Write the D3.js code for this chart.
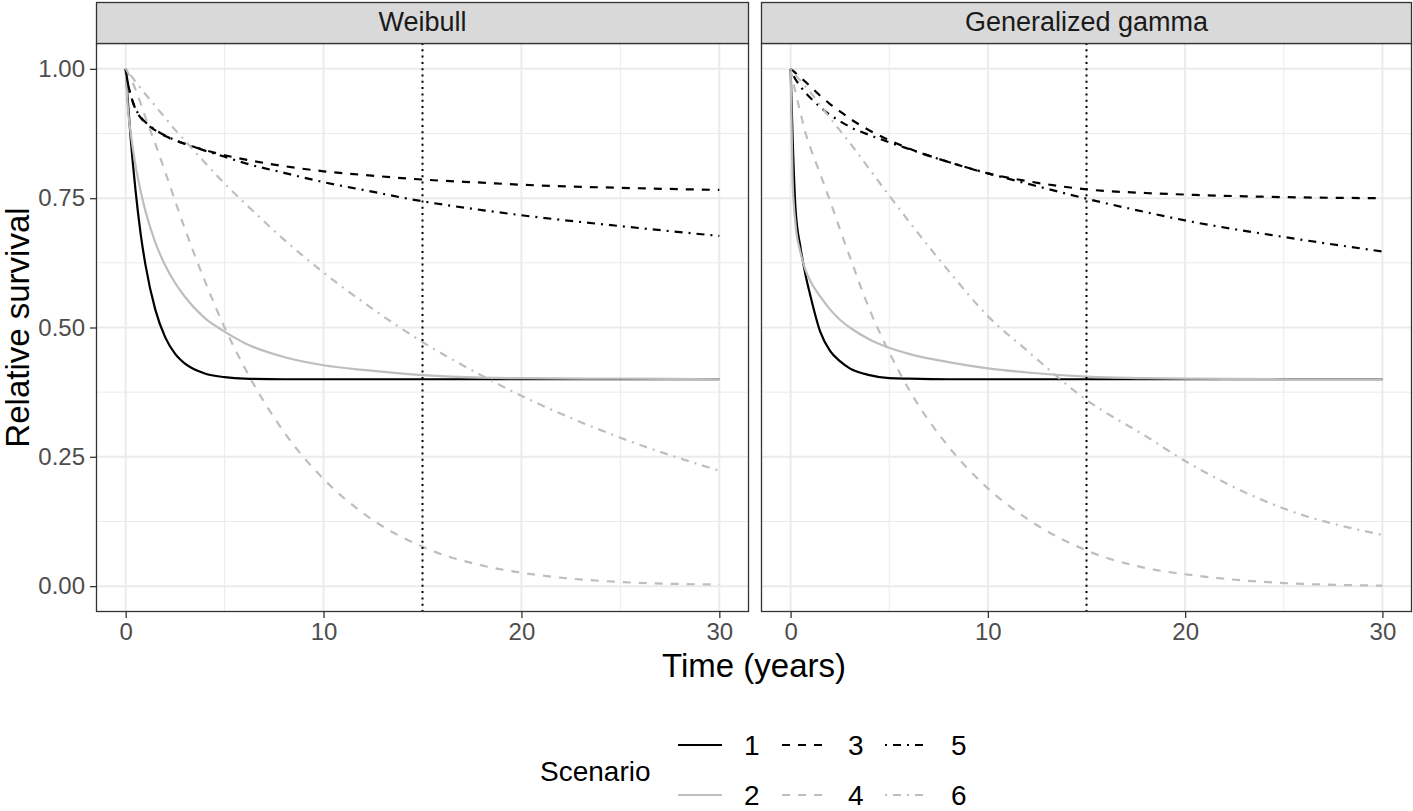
<!DOCTYPE html>
<html><head><meta charset="utf-8">
<script src="https://cdn.jsdelivr.net/npm/d3@7"></script>
<style>
html,body{margin:0;padding:0;background:#fff;}
text{font-family:"Liberation Sans",Arial,Helvetica,sans-serif;}
</style></head>
<body><svg id="c" width="1413" height="811"></svg>
<script>
const panels = ["Weibull", "Generalized gamma"];
const scenarios = ["1", "2", "3", "4", "5", "6"];
const times = [0, 0.1, 0.25, 0.5, 0.75, 1, 1.5, 2, 2.5, 3, 4, 5, 6, 8, 10, 12, 15, 18, 20, 25, 30];
const xTicks = [0, 10, 20, 30];
const yTicks = [0, 0.25, 0.5, 0.75, 1];
const yTickLabels = ["0.00", "0.25", "0.50", "0.75", "1.00"];
const cutoffTime = 15;

// Weibull
const weib1 = [1, 0.943, 0.867, 0.764, 0.683, 0.621, 0.534, 0.481, 0.449, 0.430, 0.411, 0.404, 0.401, 0.400, 0.400, 0.400, 0.400, 0.400, 0.400, 0.400, 0.400];
const weib2 = [1, 0.930, 0.877, 0.813, 0.765, 0.725, 0.664, 0.620, 0.586, 0.559, 0.518, 0.492, 0.470, 0.443, 0.427, 0.418, 0.408, 0.403, 0.402, 0.401, 0.400];
const weib3 = [1, 0.975, 0.950, 0.922, 0.906, 0.896, 0.881, 0.870, 0.862, 0.855, 0.843, 0.833, 0.825, 0.812, 0.802, 0.795, 0.786, 0.780, 0.776, 0.770, 0.766];
const weib4 = [1, 0.994, 0.982, 0.960, 0.934, 0.906, 0.855, 0.800, 0.745, 0.690, 0.590, 0.500, 0.423, 0.298, 0.207, 0.141, 0.076, 0.040, 0.026, 0.008, 0.003];
const weib5 = [1, 0.975, 0.950, 0.923, 0.907, 0.897, 0.882, 0.871, 0.862, 0.855, 0.842, 0.830, 0.818, 0.799, 0.781, 0.766, 0.744, 0.727, 0.717, 0.696, 0.677];
const weib6 = [1, 0.995, 0.988, 0.975, 0.963, 0.951, 0.928, 0.905, 0.882, 0.861, 0.819, 0.778, 0.741, 0.670, 0.606, 0.549, 0.472, 0.407, 0.368, 0.287, 0.223];

// Generalized gamma
const gg1 = [1, 0.870, 0.730, 0.655, 0.603, 0.562, 0.492, 0.455, 0.435, 0.421, 0.408, 0.402, 0.401, 0.400, 0.400, 0.400, 0.400, 0.400, 0.400, 0.400, 0.400];
const gg2 = [1, 0.785, 0.700, 0.645, 0.612, 0.590, 0.560, 0.535, 0.515, 0.500, 0.477, 0.461, 0.449, 0.433, 0.421, 0.413, 0.405, 0.402, 0.401, 0.400, 0.400];
const gg3 = [1, 0.997, 0.992, 0.984, 0.975, 0.966, 0.948, 0.932, 0.918, 0.904, 0.881, 0.862, 0.846, 0.820, 0.798, 0.783, 0.767, 0.760, 0.757, 0.752, 0.750];
const gg4 = [1, 0.980, 0.955, 0.915, 0.877, 0.848, 0.797, 0.745, 0.690, 0.637, 0.535, 0.452, 0.380, 0.270, 0.189, 0.130, 0.069, 0.035, 0.023, 0.006, 0.001];
const gg5 = [1, 0.990, 0.980, 0.966, 0.954, 0.944, 0.926, 0.911, 0.899, 0.888, 0.872, 0.858, 0.845, 0.820, 0.798, 0.778, 0.749, 0.723, 0.707, 0.675, 0.647];
const gg6 = [1, 0.995, 0.988, 0.977, 0.966, 0.955, 0.930, 0.905, 0.881, 0.857, 0.806, 0.755, 0.705, 0.610, 0.522, 0.455, 0.360, 0.290, 0.242, 0.150, 0.099];

const panelSeries = [
  [weib1, weib2, weib3, weib4, weib5, weib6],
  [gg1, gg2, gg3, gg4, gg5, gg6]
];

const colors = ["#000000", "#BEBEBE", "#000000", "#BEBEBE", "#000000", "#BEBEBE"];
const dashes = [null, null, "8,8", "8,8", "2,6,8,6", "2,6,8,6"];

const svg = d3.select("#c");
const panelX = [[96, 749], [761, 1412]];
const pTop = 43, pBottom = 612, stripTop = 2;
const y = d3.scaleLinear().domain([-0.05, 1.05]).range([pBottom, pTop]);

panels.forEach((name, pi) => {
  const [x0, x1] = panelX[pi];
  const x = d3.scaleLinear().domain([-1.5, 31.5]).range([x0, x1]);
  const g = svg.append("g");
  g.append("rect").attr("x", x0).attr("y", pTop).attr("width", x1 - x0).attr("height", pBottom - pTop).attr("fill", "#fff");
  [5, 15, 25].forEach(v => g.append("line").attr("x1", x(v)).attr("x2", x(v)).attr("y1", pTop).attr("y2", pBottom).attr("stroke", "#EBEBEB").attr("stroke-width", 1));
  [0.125, 0.375, 0.625, 0.875].forEach(v => g.append("line").attr("x1", x0).attr("x2", x1).attr("y1", y(v)).attr("y2", y(v)).attr("stroke", "#EBEBEB").attr("stroke-width", 1));
  xTicks.forEach(v => g.append("line").attr("x1", x(v)).attr("x2", x(v)).attr("y1", pTop).attr("y2", pBottom).attr("stroke", "#EBEBEB").attr("stroke-width", 2));
  yTicks.forEach(v => g.append("line").attr("x1", x0).attr("x2", x1).attr("y1", y(v)).attr("y2", y(v)).attr("stroke", "#EBEBEB").attr("stroke-width", 2));

  const line = d3.line().x(d => x(d[0])).y(d => y(d[1])).curve(d3.curveMonotoneX);
  panelSeries[pi].forEach((vals, si) => {
    const pts = times.map((t, i) => [t, vals[i]]);
    const p = g.append("path").attr("d", line(pts)).attr("fill", "none")
      .attr("stroke", colors[si]).attr("stroke-width", 2.2);
    if (dashes[si]) p.attr("stroke-dasharray", dashes[si]);
  });

  g.append("line").attr("x1", x(cutoffTime)).attr("x2", x(cutoffTime)).attr("y1", pTop).attr("y2", pBottom)
    .attr("stroke", "#000").attr("stroke-width", 2).attr("stroke-dasharray", "2,4.3");

  g.append("rect").attr("x", x0 + 0.5).attr("y", pTop + 0.5).attr("width", x1 - x0 - 1).attr("height", pBottom - pTop - 1)
    .attr("fill", "none").attr("stroke", "#333333").attr("stroke-width", 1.3);

  g.append("rect").attr("x", x0 + 0.5).attr("y", stripTop + 0.5).attr("width", x1 - x0 - 1).attr("height", pTop - stripTop)
    .attr("fill", "#D9D9D9").attr("stroke", "#333333").attr("stroke-width", 1.3);
  g.append("text").attr("x", (x0 + x1) / 2).attr("y", (stripTop + pTop) / 2 + 1).attr("text-anchor", "middle")
    .attr("dominant-baseline", "middle").attr("font-size", 27).attr("fill", "#1A1A1A").text(name);

  const xa = svg.append("g").attr("transform", `translate(0,${pBottom})`)
    .call(d3.axisBottom(x).tickValues(xTicks).tickSize(6).tickPadding(5).tickFormat(d3.format("d")));
  xa.select(".domain").remove();
  xa.selectAll(".tick line").attr("stroke", "#333333").attr("stroke-width", 1.3);
  xa.selectAll(".tick text").attr("font-size", 24).attr("fill", "#4D4D4D").attr("font-family", "Liberation Sans, Arial, sans-serif");

  if (pi === 0) {
    const ya = svg.append("g").attr("transform", `translate(${x0},0)`)
      .call(d3.axisLeft(y).tickValues(yTicks).tickSize(6).tickPadding(5).tickFormat((d, i) => yTickLabels[i]));
    ya.select(".domain").remove();
    ya.selectAll(".tick line").attr("stroke", "#333333").attr("stroke-width", 1.3);
    ya.selectAll(".tick text").attr("font-size", 24).attr("fill", "#4D4D4D").attr("font-family", "Liberation Sans, Arial, sans-serif");
  }
});

svg.append("text").attr("x", 754).attr("y", 677).attr("text-anchor", "middle").attr("font-size", 33).attr("fill", "#000").text("Time (years)");
svg.append("text").attr("transform", `translate(29,${(pTop + pBottom) / 2}) rotate(-90)`).attr("text-anchor", "middle")
  .attr("font-size", 33).attr("fill", "#000").text("Relative survival");

const lg = svg.append("g");
lg.append("text").attr("x", 540).attr("y", 781).attr("font-size", 28).attr("fill", "#000").text("Scenario");
const colX = [678, 782, 885];
const rowY = [745, 795];
scenarios.forEach((s, i) => {
  const col = Math.floor(i / 2), row = i % 2;
  const kx = colX[col], ky = rowY[row];
  const l = lg.append("line").attr("x1", kx).attr("x2", kx + 44).attr("y1", ky).attr("y2", ky)
    .attr("stroke", colors[i]).attr("stroke-width", 2.2);
  if (dashes[i]) l.attr("stroke-dasharray", dashes[i]);
  lg.append("text").attr("x", kx + 66).attr("y", ky + 10).attr("font-size", 28).attr("fill", "#000").text(s);
});
</script></body></html>
